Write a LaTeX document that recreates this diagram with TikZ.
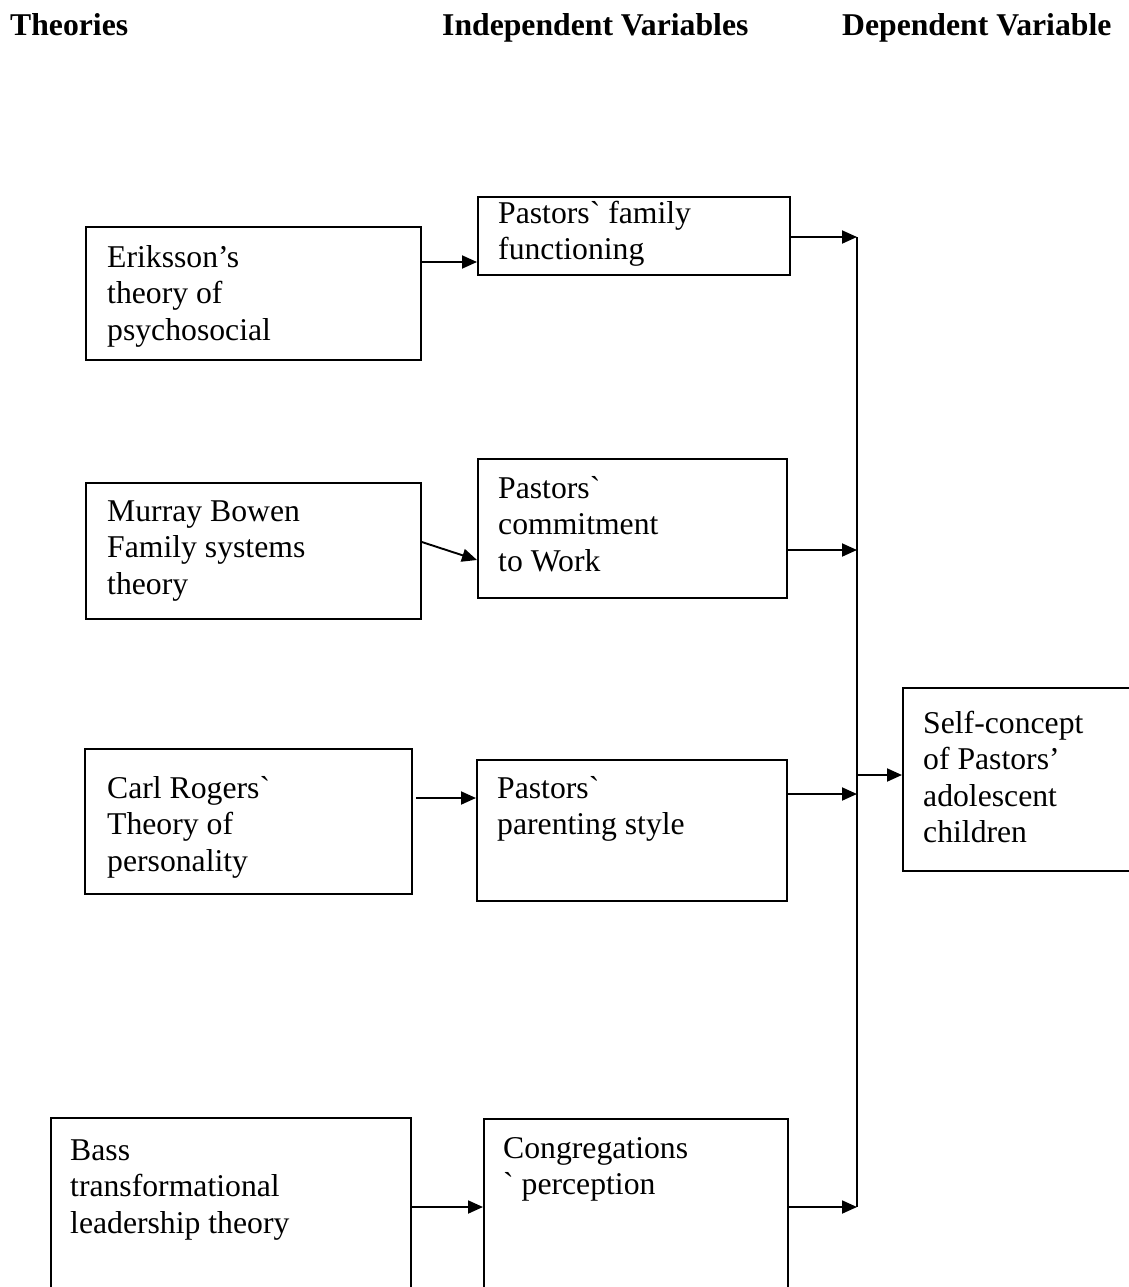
\documentclass[tikz,border=0pt]{standalone}
\usepackage{fontspec}
\newfontfamily\tnr{Liberation Serif}
\usetikzlibrary{arrows.meta,calc}
\begin{document}
\begin{tikzpicture}[x=1pt,y=-1pt,
  box/.style={draw,line width=1.8pt,inner sep=0pt,anchor=north west},
  txt/.style={anchor=north west,inner sep=0pt,align=left,font=\tnr\fontsize{31.7}{36.5}\selectfont},
  head/.style={anchor=base west,inner sep=0pt,font=\tnr\bfseries\fontsize{31.7}{36.5}\selectfont},
  arr/.style={line width=1.9pt,-{Triangle[length=15pt,width=13pt]}},
  busline/.style={line width=1.9pt}]
\useasboundingbox (0,0) rectangle (1129,1287);
\clip (0,0) rectangle (1129,1287);

% headers
\node[head] (h1) at (10,36) {Theories};
\node[head] (h2) at (442,36) {Independent Variables};
\node[head] (h3) at (842,36) {Dependent Variable};

% boxes
\node[box,minimum width=335pt,minimum height=133pt] (eri) at (85,226) {};
\node[box,minimum width=312pt,minimum height=78pt] (fam) at (477,196) {};
\node[box,minimum width=335pt,minimum height=136pt] (bow) at (85,482) {};
\node[box,minimum width=309pt,minimum height=139pt] (com) at (477,458) {};
\node[box,minimum width=327pt,minimum height=145pt] (rog) at (84,748) {};
\node[box,minimum width=310pt,minimum height=141pt] (par) at (476,759) {};
\node[box,minimum width=260pt,minimum height=183pt] (sel) at (902,687) {};
\node[box,minimum width=360pt,minimum height=200pt] (bas) at (50,1117) {};
\node[box,minimum width=304pt,minimum height=200pt] (con) at (483,1118) {};

% texts
\node[txt] (teri) at (107,241.45) {\strut Eriksson’s\\theory of\\psychosocial};
\node[txt] (tfam) at (498,197.45) {\strut Pastors` family\\functioning};
\node[txt] (tbow) at (107,495.45) {\strut Murray Bowen\\Family systems\\theory};
\node[txt] (tcom) at (498,472.45) {\strut Pastors`\\commitment\\to Work};
\node[txt] (trog) at (107,772.45) {\strut Carl Rogers`\\Theory of\\personality};
\node[txt] (tpar) at (497,772.45) {\strut Pastors`\\parenting style};
\node[txt] (tsel) at (923,707.45) {\strut Self-concept\\of Pastors’\\adolescent\\children};
\node[txt] (tbas) at (70,1134.45) {\strut Bass\\transformational\\leadership theory};
\node[txt] (tcon) at (503,1132.45) {\strut Congregations\\` perception};

% helper coordinates
\coordinate (busT) at (857,237);
\coordinate (busB) at (857,1207);
\coordinate (bus2) at (857,550);
\coordinate (bus3) at (857,794);
\coordinate (busS) at (857,775);
\coordinate (y1) at (0,262);
\coordinate (yb1) at (0,542);
\coordinate (yb2) at (0,560);
\coordinate (y3) at (0,798);

% theory -> variable arrows
\draw[arr] (eri.east |- y1) -- (fam.west |- y1);
\draw[arr] (bow.east |- yb1) -- (com.west |- yb2);
\draw[arr] ($(rog.east |- y3)+(3,0)$) -- (par.west |- y3);
\draw[arr] (bas.east |- busB) -- (con.west |- busB);

% variable -> bus arrows
\draw[busline] (busT) -- (busB);
\draw[arr] (fam.east |- busT) -- (busT);
\draw[arr] (com.east |- bus2) -- (bus2);
\draw[arr] (par.east |- bus3) -- (bus3);
\draw[arr] (con.east |- busB) -- (busB);

% bus -> dependent variable
\draw[arr] (busS) -- (sel.west |- busS);
\end{tikzpicture}
\end{document}
